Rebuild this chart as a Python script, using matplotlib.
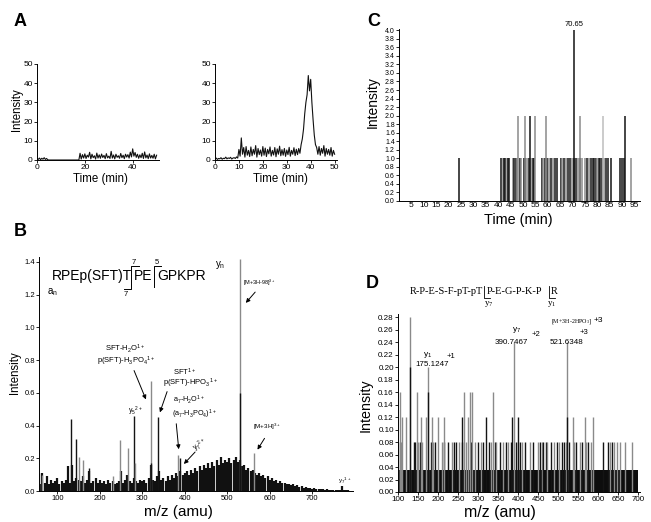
import matplotlib
matplotlib.use('Agg')
import matplotlib.pyplot as plt
import numpy as np

plt.rcParams['font.family'] = ['Liberation Sans', 'DejaVu Sans']
plt.rcParams['mathtext.default'] = 'regular'

# ---- data ----------------------------------------------------------------
# A: ion chromatograms, sampled every 0.5 min from 0 to 50 min
trace_left = [
    0.8, 0.3, 1.0, 0.2, 0.9, 0.4, 1.2, 0.3, 0.8, 0.1,
    0.0, 0.0, 0.0, 0.0, 0.0, 0.0, 0.0, 0.0, 0.0, 0.0,
    0.0, 0.0, 0.0, 0.0, 0.0, 0.0, 0.0, 0.0, 0.0, 0.0,
    0.0, 0.0, 0.0, 0.0, 0.0, 0.0, 3.5, 0.5, 2.8, 1.0,
    3.2, 0.8, 2.5, 1.5, 4.0, 0.6, 3.0, 1.2, 2.2, 0.5,
    3.6, 1.0, 2.7, 0.9, 3.1, 1.3, 2.4, 0.7, 3.3, 1.1,
    2.0, 0.8, 4.5, 1.0, 2.6, 0.6, 3.0, 1.4, 2.2, 0.9,
    3.4, 1.2, 2.5, 0.7, 3.0, 1.5, 2.8, 1.0, 4.1, 1.6,
    5.8, 2.0, 3.9, 1.4, 3.0, 0.9, 2.7, 1.2, 3.5, 0.8,
    4.2, 1.1, 2.6, 0.7, 3.2, 1.0, 2.4, 0.9, 3.0, 0.6,
    2.5,
]
trace_right = [
    0.5, 1.0, 0.3, 0.8, 0.6, 1.2, 0.4, 0.9, 0.7, 1.5,
    0.6, 1.1, 0.8, 1.4, 0.5, 1.0, 1.2, 0.8, 1.6, 1.0,
    5.5, 2.0, 11.5, 3.0, 6.5, 1.5, 7.0, 2.5, 5.0, 1.8,
    6.8, 2.2, 5.5, 3.0, 7.5, 1.5, 6.0, 2.8, 5.2, 2.0,
    7.0, 2.5, 6.2, 1.8, 5.5, 3.2, 6.8, 2.0, 5.0, 2.6,
    6.5, 1.7, 5.8, 3.0, 7.2, 2.2, 5.4, 2.5, 6.0, 1.9,
    5.2, 2.8, 6.6, 2.0, 5.0, 3.0, 6.4, 2.3, 5.6, 2.8,
    6.0, 3.5, 8.0, 11.0, 16.0, 24.0, 30.0, 34.0, 44.0, 36.0,
    42.0, 30.0, 21.0, 13.0, 8.0, 6.5, 3.0, 7.0, 2.5, 6.0,
    3.5, 7.5, 2.0, 6.0, 3.0, 5.5, 2.5, 6.5, 2.0, 5.0,
    3.0,
]
a_xticks_left = [0, 20, 40]
a_xticks_right = [0, 10, 20, 30, 40, 50]
a_yticks = [0, 10, 20, 30, 40, 50]

# B: MS/MS spectrum, background every 5 amu from 55 to 795
b_bg_start, b_bg_step = 55, 5
b_background = [
    0.10, 0.04, 0.11, 0.05, 0.09, 0.04, 0.07, 0.05, 0.06, 0.08,
    0.04, 0.06, 0.05, 0.07, 0.15, 0.05, 0.16, 0.06, 0.08, 0.07,
    0.06, 0.09, 0.05, 0.07, 0.12, 0.05, 0.06, 0.08, 0.05, 0.07,
    0.05, 0.06, 0.04, 0.07, 0.05, 0.06, 0.04, 0.05, 0.06, 0.12,
    0.05, 0.07, 0.10, 0.06, 0.05, 0.08, 0.06, 0.05, 0.07, 0.06,
    0.07, 0.05, 0.08, 0.16, 0.07, 0.06, 0.09, 0.12, 0.07, 0.08,
    0.06, 0.09, 0.07, 0.10, 0.08, 0.11, 0.09, 0.12, 0.10, 0.11,
    0.12, 0.10, 0.13, 0.11, 0.14, 0.12, 0.15, 0.13, 0.16, 0.14,
    0.17, 0.14, 0.18, 0.15, 0.19, 0.16, 0.21, 0.17, 0.19, 0.18,
    0.20, 0.17, 0.19, 0.21, 0.18, 0.19, 0.15, 0.16, 0.13, 0.14,
    0.12, 0.13, 0.11, 0.10, 0.11, 0.09, 0.10, 0.08, 0.09, 0.07,
    0.08, 0.06, 0.07, 0.05, 0.06, 0.05, 0.05, 0.04, 0.045, 0.035,
    0.04, 0.03, 0.035, 0.025, 0.03, 0.02, 0.025, 0.018, 0.02, 0.015,
    0.018, 0.012, 0.015, 0.01, 0.012, 0.008, 0.01, 0.007, 0.008, 0.006,
    0.007, 0.005, 0.006, 0.03, 0.005, 0.004, 0.004, 0.003, 0.003,
]
b_peak_mz = [57, 64, 133, 145, 152, 160, 174, 232, 248, 266, 280, 283,
             320, 320, 338, 385, 389, 529, 529, 562]
b_peak_int = [0.11, 0.10, 0.44, 0.32, 0.21, 0.19, 0.14, 0.09, 0.31, 0.26, 0.46, 0.17,
              0.67, 0.17, 0.45, 0.22, 0.20, 1.42, 0.60, 0.23]
b_peak_shade = ['g', 'g', 'k', 'k', 'g', 'g', 'k', 'g', 'g', 'g', 'k', 'g',
                'g', 'k', 'k', 'g', 'k', 'g', 'k', 'g']
b_xticks = [100, 200, 300, 400, 500, 600, 700]
b_yticks = [0.0, 0.2, 0.4, 0.6, 0.8, 1.0, 1.2, 1.4]

# C: extracted-ion chromatogram (counts)
c_times = [24.0,
           41.3, 41.8, 42.3, 42.8, 43.4, 44.0, 44.5, 45.8, 46.4, 47.0, 47.6,
           48.6, 49.2, 50.4, 51.0, 51.6, 52.4, 53.2, 54.0, 54.6,
           57.5, 58.1, 58.8, 59.6, 60.4, 61.2, 62.0, 62.8, 63.6,
           65.2, 65.9, 66.6, 67.3, 68.0, 68.8, 69.6, 70.4, 71.4, 72.2, 73.0, 74.0,
           75.0, 75.8, 76.6, 77.4, 78.2, 78.8, 79.4, 80.0, 80.6, 81.2, 82.0, 82.8,
           83.6, 84.4, 85.4, 89.2, 90.0, 90.8, 93.6,
           47.9, 50.9, 53.0, 54.7, 59.1, 73.1, 82.4, 91.0, 70.65]
c_counts = [1] * 61 + [2, 2, 2, 2, 2, 2, 2, 2, 4]
c_shade = ('k'
           'kgkkgkk' 'gkkg' 'kg' 'kkgkgkk' 'kgkkgkgkk' 'kgkgkkgkkgkg'
           'gkgkkkkgkkkg' 'kkk' 'kkkg'
           'ggkggglkk')
c_peak_label = '70.65'
c_xticks = [5, 10, 15, 20, 25, 30, 35, 40, 45, 50, 55, 60, 65, 70, 75, 80, 85, 90, 95]
c_yticks = [0.0, 0.2, 0.4, 0.6, 0.8, 1.0, 1.2, 1.4, 1.6, 1.8, 2.0, 2.2, 2.4, 2.6,
            2.8, 3.0, 3.2, 3.4, 3.6, 3.8, 4.0]

# D: MS/MS spectrum (counts scaled)
d_base_range = (100, 700)
d_base_level = 0.036
d_low_mz = [100, 104, 108, 141, 143, 151, 155, 159, 183, 187, 193, 209, 215, 226,
            234, 240, 244, 253, 260, 270, 282, 293, 299, 308, 312, 327, 333, 342,
            346, 354, 363, 370, 376, 382, 395, 399, 405, 410, 418, 431, 438, 450,
            455, 459, 463, 469, 473, 482, 490, 497, 503, 509, 516, 520, 528, 539,
            545, 554, 560, 571, 575, 583, 613, 626, 630, 634, 639, 647, 656, 667, 685]
d_low_level = 0.08
d_low_shade = ('gggkkgkg' 'kgkgkkgk' 'kgkgkgkg' 'kkgkgkgk' 'gkkgkgkg' 'kgkgkkgk'
               'gkgkkgkg' 'kgkgkgkk' 'gkgggggg' 'g')
d_peak_mz = [105, 110, 119, 130, 130, 147, 158, 169, 175.1, 174, 185, 201, 214,
             261, 266, 274, 281, 286, 321, 338, 384, 390.7, 401, 521.6, 523, 537, 567, 588]
d_peak_int = [0.16, 0.12, 0.12, 0.28, 0.20, 0.16, 0.12, 0.12, 0.20, 0.16, 0.12, 0.12, 0.12,
              0.12, 0.16, 0.12, 0.16, 0.16, 0.12, 0.16, 0.12, 0.24, 0.12, 0.24, 0.12, 0.12,
              0.12, 0.12]
d_peak_shade = ['g', 'g', 'g', 'g', 'k', 'g', 'g', 'g', 'g', 'k', 'g', 'g', 'g',
                'k', 'g', 'g', 'g', 'g', 'k', 'g', 'k', 'g', 'k', 'g', 'k', 'g', 'g', 'g']
d_xticks = [100, 150, 200, 250, 300, 350, 400, 450, 500, 550, 600, 650, 700]
d_yticks = [0.00, 0.02, 0.04, 0.06, 0.08, 0.10, 0.12, 0.14, 0.16, 0.18, 0.20,
            0.22, 0.24, 0.26, 0.28]

SHADES = {'k': '#141414', 'g': '#8a8a8a', 'l': '#bdbdbd'}

# ---- layout helpers (reference is 651 x 522 px) --------------------------
W, H = 651, 522


def box(x0, y0, x1, y1):
    return [x0 / W, 1 - y1 / H, (x1 - x0) / W, (y1 - y0) / H]


def P(x, y):
    return (x / W, 1 - y / H)


def style(ax, tick_size):
    for s in ['top', 'right']:
        ax.spines[s].set_visible(False)
    for s in ['left', 'bottom']:
        ax.spines[s].set_linewidth(0.7)
    ax.tick_params(direction='out', length=2, width=0.6, labelsize=tick_size, pad=1)


fig = plt.figure(figsize=(6.51, 5.22), dpi=100)


def label(x, y, s, size, **kw):
    fig.text(*P(x, y), s, fontsize=size, ha='center', va='center', **kw)


# ---- A -------------------------------------------------------------------
for (x0, x1), trace, xt in [((37, 159), trace_left, a_xticks_left),
                            ((215, 337), trace_right, a_xticks_right)]:
    ax = fig.add_axes(box(x0, 64, x1, 160))
    t = np.linspace(0, 50, len(trace))
    ax.plot(t, trace, color='#111111', lw=0.8)
    ax.set_xlim(0, 51)
    ax.set_ylim(0, 50)
    ax.set_xticks(xt)
    ax.set_yticks(a_yticks)
    style(ax, 6)

label(100, 179, 'Time (min)', 8.3)
label(280, 179, 'Time (min)', 8.3)
label(17, 110, 'Intensity', 8.3, rotation=90)
label(20, 22, 'A', 13, fontweight='bold')

# ---- B -------------------------------------------------------------------
axb = fig.add_axes(box(39, 257, 353, 491))
bg_mz = b_bg_start + b_bg_step * np.arange(len(b_background))
axb.vlines(bg_mz, 0, b_background, color='#111111', lw=1.6)
axb.vlines(b_peak_mz, 0, b_peak_int, colors=[SHADES[c] for c in b_peak_shade], lw=1.0)
axb.set_xlim(57, 796)
axb.set_ylim(0, 1.43)
axb.set_xticks(b_xticks)
axb.set_yticks(b_yticks)
axb.set_yticklabels(['%.1f' % v for v in b_yticks])
style(axb, 5.5)

label(15, 373, 'Intensity', 8.3, rotation=90)
label(178, 512, 'm/z (amu)', 11)
label(20, 232, 'B', 13, fontweight='bold')

# sequence with fragmentation brackets
fig.text(*P(52, 276), 'RPEp(SFT)T', fontsize=10, ha='left', va='center')
fig.text(*P(134, 276), 'PE', fontsize=10, ha='left', va='center')
fig.text(*P(157, 276), 'GPKPR', fontsize=10, ha='left', va='center')
for xs, ys in [([124, 131, 131, 139], [289, 289, 266, 266]),
               ([154, 154, 161], [287, 266, 266])]:
    fig.add_artist(plt.Line2D([x / W for x in xs], [1 - y / H for y in ys],
                              color='black', lw=0.7))
label(134, 262, '7', 5.5)
label(157, 262, '5', 5.5)
label(126, 294, '7', 5.5)
label(220, 265, 'y$_n$', 7)
label(52, 292, 'a$_n$', 7)

b_notes = [
    ('SFT-H$_2$O$^{1+}$', (125, 349), 5.5, 0),
    ('p(SFT)-H$_3$PO$_4$$^{1+}$', (126, 361), 5.5, 0),
    ('SFT$^{1+}$', (185, 372), 5.5, 0),
    ('p(SFT)-HPO$_3$$^{1+}$', (190, 383), 5.5, 0),
    ('y$_5$$^{2+}$', (135, 411), 5, 0),
    ('a$_7$-H$_2$O$^{1+}$', (189, 400), 5.2, 0),
    ('(a$_7$-H$_3$PO$_4$)$^{1+}$', (194, 414), 5.2, 0),
    ('y$_7$$^{2+}$', (200, 445), 5, 35),
    ('[M+3H]$^{3+}$', (267, 427), 4.5, 0),
    ('[M+3H-98]$^{3+}$', (259, 283), 4, 0),
    ('y$_7$$^{1+}$', (345, 481), 4.5, 0),
]
for s, (x, y), size, rot in b_notes:
    label(x, y, s, size, rotation=rot)

for (x0, y0), (x1, y1) in [((133, 368), (147, 402)), ((168, 389), (159, 415)),
                           ((176, 421), (179, 452)), ((197, 450), (182, 466)),
                           ((266, 436), (256, 452)), ((257, 290), (244, 305))]:
    fig.add_artist(matplotlib.patches.FancyArrowPatch(
        P(x0, y0), P(x1, y1), transform=fig.transFigure,
        arrowstyle='-|>', mutation_scale=6, lw=0.7, color='black'))

# ---- C -------------------------------------------------------------------
axc = fig.add_axes(box(399, 29, 640, 201))
axc.vlines(c_times, 0, c_counts, colors=[SHADES[c] for c in c_shade[:len(c_times)]], lw=1.1)
axc.set_xlim(0, 97.2)
axc.set_ylim(0, 4.03)
axc.set_xticks(c_xticks)
axc.set_yticks(c_yticks)
axc.set_yticklabels(['%.1f' % v for v in c_yticks])
style(axc, 5)
axc.tick_params(axis='x', labelsize=6, length=0)
imax = int(np.argmax(c_counts))
axc.text(c_times[imax], c_counts[imax] + 0.05, c_peak_label, fontsize=5.5,
         ha='center', va='bottom')

label(373, 102, 'Intensity', 10, rotation=90)
label(518, 220, 'Time (min)', 10.4)
label(374, 22, 'C', 13, fontweight='bold')

# ---- D -------------------------------------------------------------------
axd = fig.add_axes(box(398, 314, 640, 492))
axd.fill_between(d_base_range, 0, d_base_level, color='#0d0d0d', lw=0)
axd.vlines(d_low_mz, 0, d_low_level, colors=[SHADES[c] for c in d_low_shade[:len(d_low_mz)]],
           lw=1.0)
axd.vlines(d_peak_mz, 0, d_peak_int, colors=[SHADES[c] for c in d_peak_shade], lw=1.0)
axd.set_xlim(100, 705)
axd.set_ylim(0, 0.285)
axd.set_xticks(d_xticks)
axd.set_yticks(d_yticks)
axd.set_yticklabels(['%.2f' % v for v in d_yticks])
style(axd, 5.8)

label(366, 405, 'Intensity', 10.3, rotation=90)
label(500, 512, 'm/z (amu)', 11.5)
label(372, 284, 'D', 13, fontweight='bold')

serif = ['Liberation Serif', 'DejaVu Serif']
fig.text(*P(410, 292), 'R-P-E-S-F-pT-pT', fontsize=7.5, family=serif, ha='left', va='center')
fig.text(*P(487, 292), 'P-E-G-P-K-P', fontsize=7.5, family=serif, ha='left', va='center')
fig.text(*P(551, 292), 'R', fontsize=7.5, family=serif, ha='left', va='center')
for xs, ys in [([484, 484, 490], [286, 298, 298]), ([549, 549, 555], [286, 298, 298])]:
    fig.add_artist(plt.Line2D([x / W for x in xs], [1 - y / H for y in ys],
                              color='black', lw=0.6))
label(489, 304, 'y$_7$', 6.5, family=serif)
label(552, 304, 'y$_1$', 6.5, family=serif)

d_notes = [
    ('[M+3H-2HPO$_3$]', (572, 322), 4.3),
    ('+3', (598, 320), 6),
    ('y$_7$', (517, 330), 6),
    ('+2', (536, 334), 5.5),
    ('390.7467', (511, 342), 5.8),
    ('521.6348', (566, 342), 5.8),
    ('+3', (584, 333), 5.5),
    ('y$_1$', (428, 355), 6),
    ('+1', (451, 357), 5.5),
    ('175.1247', (432, 364), 5.8),
]
for s, (x, y), size in d_notes:
    label(x, y, s, size, family=serif if s.startswith('[') else None)

fig.savefig('out.png', dpi=100)
